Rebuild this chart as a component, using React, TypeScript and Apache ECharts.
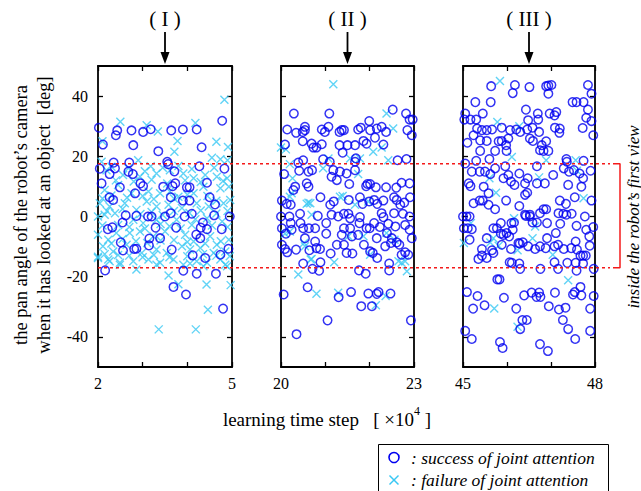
import React, { useEffect, useRef } from "react";
import * as echarts from "echarts";

const FONT = '"Liberation Serif", "Times New Roman", serif';

const panelTitles = ["( I )", "( II )", "( III )"];
const xRanges: [number, number][] = [[2, 5], [20, 23], [45, 48]];
const yTicks = [-40, -20, 0, 20, 40];
const viewLimits = [17.5, -17];

const p1Success: [number, number][] = [
  [2.02,29.5],[2.11,23.9],[2.40,27.0],[2.43,28.6],[2.75,28.6],[2.79,23.7],[3.01,28.1],[3.18,29.0],[3.35,21.7],[3.64,28.6],[3.90,28.9],[4.21,28.9],[4.32,23.0],[4.78,31.8],
  [2.04,15.9],[2.35,17.9],[2.26,14.1],[2.38,16.0],[2.70,17.9],[2.68,14.9],[2.78,14.1],[3.55,18.2],[3.57,17.4],[3.71,15.0],[4.27,16.7],[4.83,15.9],
  [2.08,11.0],[2.49,9.7],[2.95,11.0],[3.01,10.1],[2.83,7.7],[3.46,9.9],[3.67,10.1],[3.73,11.0],[3.99,9.7],[4.05,9.7],[4.44,11.2],[3.63,6.4],[2.26,6.4],[2.34,5.5],[3.90,5.3],[4.05,5.3],[4.50,6.4],[4.62,4.0],
  [2.62,0.4],[2.86,0.2],[3.12,0],[3.20,0],[3.50,0],[3.63,1.1],[3.94,0],[4.10,0.9],[4.60,0.4],[4.95,0],
  [2.55,-2.0],[2.22,-4.2],[2.32,-3.6],[3.29,-3.7],[3.75,-3.7],[4.35,-2.0],[4.30,-3.7],[4.44,-4.2],[4.77,-4.2],[4.20,-6.0],[4.29,-7.2],[3.39,-7.2],[3.15,-7.3],[2.51,-8.6],[3.14,-9.6],[2.56,-11.3],[2.81,-10.8],[2.86,-10.7],[3.65,-11.0],[4.12,-12.9],[4.40,-13.8],[4.74,-12.7],[4.92,-10.7],
  [2.16,-17.9],[3.91,-18.0],[4.21,-19.0],[4.64,-19.0],[3.69,-23.4],[3.97,-25.9],[4.80,-30.6]
];

const p1Failure: [number, number][] = [
  [4.83,38.8],[2.50,31.5],[3.09,30.3],[3.34,28.2],[4.18,31.1],[2.10,25.0],[3.78,25.1],[4.65,24.8],[4.91,23.1],[3.71,21.5],[4.55,19.5],[4.74,19.0],[4.90,18.7],[2.08,18.2],[2.90,18.7],[3.18,16.7],
  [2.19,15.4],[2.56,13.8],[2.94,13.2],[3.31,14.3],[3.61,15.4],[3.91,14.3],[4.14,12.7],[4.40,13.8],[4.66,13.2],[4.89,12.7],
  [2.30,16.5],[2.68,16.0],[3.05,15.0],[3.45,16.2],[3.80,16.8],[4.10,15.8],[4.60,16.2],[2.40,12.0],[2.80,11.6],[3.20,12.2],[3.55,11.0],[3.95,12.0],[4.30,11.5],[4.80,11.8],
  [2.15,8.8],[2.45,10.5],[2.75,7.7],[3.13,8.3],[3.39,7.7],[3.61,8.3],[3.80,6.6],[4.14,7.7],[4.36,9.9],[4.74,9.4],[4.93,9.9],
  [2.30,7.0],[2.65,6.2],[3.00,6.8],[3.25,5.8],[3.70,6.0],[4.00,7.2],[4.45,6.8],[4.65,5.2],[2.10,6.0],
  [2.04,4.4],[2.26,3.3],[2.60,4.4],[2.86,2.2],[3.09,5.0],[3.31,3.3],[3.58,3.9],[3.88,2.8],[4.21,4.4],[4.48,3.3],[4.81,4.4],[4.96,5.5],
  [2.20,1.8],[2.55,2.5],[2.95,0.8],[3.20,1.5],[3.45,0.5],[3.70,1.8],[4.05,1.2],[4.30,2.0],[4.65,1.0],[4.90,1.8],
  [2.00,0],[2.15,0.6],[2.38,1.1],[2.79,-1.1],[3.01,-2.2],[3.31,-1.1],[3.76,-1.1],[4.18,-0.9],[4.44,-0.6],[4.78,-1.7],
  [2.10,-3.0],[2.45,-2.8],[2.70,-3.5],[3.05,-4.0],[3.40,-2.5],[3.60,-3.2],[3.85,-4.0],[4.10,-2.8],[4.55,-3.0],[4.90,-3.5],
  [2.00,-6.1],[2.23,-7.7],[2.41,-5.5],[2.71,-5.5],[2.94,-5.0],[3.24,-6.6],[3.50,-5.0],[3.95,-6.1],[4.14,-8.3],[4.51,-6.6],[4.66,-9.4],[4.93,-7.7],
  [2.30,-9.0],[2.55,-7.5],[2.85,-8.2],[3.10,-8.8],[3.40,-8.0],[3.70,-7.8],[4.00,-8.5],[4.40,-9.0],[4.75,-8.2],
  [2.11,-9.9],[2.34,-11.6],[2.64,-9.4],[2.98,-12.1],[3.31,-11.0],[3.54,-12.1],[3.88,-9.9],[4.06,-11.0],[4.29,-10.5],[4.59,-12.1],[4.85,-11.6],
  [2.15,-12.5],[2.45,-12.8],[2.70,-13.0],[3.00,-13.5],[3.25,-12.8],[3.60,-13.5],[4.00,-13.2],[4.35,-12.5],[4.65,-13.0],[4.95,-13.2],
  [2.00,-13.8],[2.23,-14.3],[2.49,-15.4],[2.79,-14.9],[3.13,-14.3],[3.39,-15.4],[3.69,-14.3],[3.91,-16.0],[4.21,-14.9],[4.44,-15.4],[4.74,-14.3],[4.89,-16.5],
  [2.00,-13.4],[2.26,-14.9],[2.49,-16.0],[2.86,-17.6],[3.31,-16.0],[4.06,-15.6],[4.36,-16.5],[4.85,-16.0],
  [3.58,-19.6],[3.80,-22.5],[4.43,-22.6],[4.46,-31.0],[4.97,-22.8],[3.36,-37.5],[4.19,-37.5]
];

const p2Success: [number, number][] = [
  [20.29,34.2],[21.09,34.2],[22.52,35.5],[22.82,34.2],[22.90,32.2],[22.97,32.2],
  [20.14,28.9],[20.34,27.8],[20.49,28.1],[20.54,28.7],[20.54,29.8],[20.92,28.9],[20.99,28.1],[21.07,29.8],[21.32,28.1],[21.37,28.7],[21.42,28.7],[21.74,28.9],[21.80,29.5],[21.99,31.7],[22.01,28.7],[22.16,29.2],[22.27,29.8],[22.37,28.1],[22.85,28.7],[22.95,27.0],
  [20.09,23.9],[20.49,25.0],[20.69,24.2],[20.73,22.9],[20.80,22.9],[20.92,24.0],[21.32,23.7],[21.39,21.2],[21.50,23.7],[21.67,23.7],[21.86,25.1],[21.93,24.2],[22.12,26.2],[22.31,23.9],[22.63,18.7],[22.83,19.1],
  [20.07,14.1],[20.39,17.9],[20.50,18.7],[20.41,15.2],[20.62,14.9],[20.70,15.4],[20.95,19.0],[21.10,18.2],[21.18,15.4],[21.14,13.2],[21.26,12.1],[21.33,14.9],[21.48,14.3],[21.67,18.2],[21.69,19.3],[21.67,15.4],
  [20.32,9.9],[20.28,8.8],[20.58,11.0],[20.62,9.9],[21.54,10.8],[21.92,10.1],[21.95,10.8],[22.01,10.8],[22.14,9.7],[22.37,9.7],[22.60,9.6],[22.72,11.2],[22.90,11.0],
  [20.02,5.3],[20.13,4.2],[20.22,3.9],[20.89,6.4],[21.11,3.9],[21.19,5.0],[21.53,5.5],[21.78,6.4],[21.84,4.2],[21.99,5.0],[22.10,5.5],[22.17,4.2],[22.31,5.3],[22.55,6.4],[22.61,5.5],[22.69,3.9],[22.78,4.6],[22.91,6.4],
  [20.00,0],[20.19,0],[20.43,0.9],[20.83,0.2],[21.14,0.6],[21.29,0],[21.42,0.9],[21.52,0.9],[21.56,-0.6],[21.78,-0.2],[22.27,1.1],[22.31,-0.2],[22.55,1.1],[22.75,0.9],[22.90,0],
  [20.02,-3.9],[20.22,-2.2],[20.24,-4.4],[20.44,-2.2],[20.50,-3.9],[20.63,-3.9],[20.77,-3.9],[21.02,-2.2],[21.42,-3.9],[21.56,-3.9],[21.77,-2.2],[21.93,-3.9],[22.00,-3.9],[22.10,-2.2],[22.23,-3.5],[22.42,-2.4],[22.58,-3.3],[22.80,-2.8],[22.90,-4.4],
  [20.11,-5.7],[20.54,-7.2],[21.02,-5.7],[21.37,-6.1],[21.60,-6.6],[21.74,-6.1],[22.16,-7.2],[22.39,-5.5],[22.50,-7.2],[22.95,-7.2],
  [20.02,-9.4],[20.09,-10.8],[20.14,-11.9],[20.34,-11.0],[20.64,-11.2],[20.77,-8.3],[20.80,-10.5],[20.88,-10.8],[21.12,-12.3],[21.26,-9.4],[21.42,-9.4],[21.48,-12.1],[21.61,-12.3],[21.87,-9.4],[22.01,-11.6],[22.07,-12.1],[22.17,-13.8],[22.35,-9.9],[22.48,-8.8],[22.61,-8.6],[22.67,-9.4],[22.72,-12.7],[22.80,-11.9],[22.87,-12.7],
  [20.50,-15.6],[20.89,-15.2],[22.44,-15.6],[20.71,-17.4],[20.86,-18.0],[21.76,-17.9],[21.91,-19.0],[22.44,-17.9],
  [20.06,-25.9],[20.60,-23.5],[21.30,-26.8],[21.58,-25.1],[21.81,-29.8],[21.97,-25.6],[22.05,-29.8],[22.16,-25.7],[22.20,-25.1],[22.47,-25.6],[21.05,-34.5],[22.93,-34.5],[20.35,-39.1]
];

const p2Failure: [number, number][] = [
  [21.18,43.9],[22.38,34.2],[22.53,29.2],[20.00,22.9],[20.11,22.3],[22.08,21.5],[22.27,22.9],[22.42,18.7],[21.78,19.3],[21.56,19.3],[21.07,19.3],[20.20,17.4],[20.95,16.0],[21.74,14.1],[20.26,12.7],
  [20.20,6.6],[20.24,7.7],[20.62,4.6],[20.66,4.4],[20.58,4.2],[21.33,6.6],[21.39,6.8],[21.67,3.9],[21.97,5.0],[20.69,0.6],[20.20,-5.0],[20.54,-9.9],[21.52,-6.6],[21.86,-6.6],[22.38,-5.5],
  [20.69,-14.1],[21.20,-15.2],[22.65,-14.9],[22.80,-14.9],[22.56,-7.7],[20.39,-19.3],[20.67,-14.3],[20.80,-25.7],[21.29,-25.3],[22.14,-29.5],[22.36,-26.4],[22.84,-18.2],[22.72,-15.4],[20.09,-5.7],[22.01,-12.7],[20.52,-8.8]
];

const p3Success: [number, number][] = [
  [45.64,43.3],[46.18,43.7],[46.13,41.0],[46.51,43.0],[46.89,43.3],[46.94,43.5],[47.01,43.7],[46.94,40.8],[47.84,43.7],[47.92,40.8],
  [45.28,38.0],[45.63,38.0],[47.49,38.0],[47.58,38.0],[47.74,38.0],[47.84,35.5],[46.43,35.5],
  [45.05,34.2],[45.03,32.2],[45.17,32.2],[45.30,32.2],[45.45,34.2],[46.70,34.2],[46.71,32.2],[46.48,32.0],[46.97,34.2],[47.12,34.7],[47.08,33.6],[47.80,32.8],[47.92,31.7],[47.72,29.4],[47.96,27.0],
  [45.32,29.2],[45.43,28.7],[45.54,28.7],[45.66,28.9],[45.88,29.5],[46.07,28.7],[46.21,28.9],[46.30,28.1],[46.46,28.9],[46.58,29.5],[46.73,28.1],[47.09,29.5],[47.20,29.2],[47.19,27.8],
  [45.24,27.0],[45.10,24.5],[45.39,25.3],[45.54,25.1],[45.81,25.0],[45.88,25.1],[46.03,25.9],[45.98,23.7],[46.52,25.9],[46.59,25.1],[46.89,25.0],[46.79,23.7],[46.75,22.0],[46.83,21.8],[46.94,21.8],
  [45.39,21.8],[45.73,21.8],[45.99,21.8],[45.30,18.5],[45.60,19.1],[47.35,19.1],[47.36,18.2],[47.74,18.5],[45.05,17.6],
  [45.20,14.9],[45.38,14.9],[45.50,14.9],[45.62,14.1],[45.73,16.0],[45.96,16.7],[46.03,13.8],[45.92,12.7],[46.09,11.6],[46.17,10.5],[46.28,14.3],[46.47,12.7],[46.68,16.7],[46.41,11.0],[46.68,11.0],[46.86,11.0],[47.05,13.8],[47.29,16.0],[47.41,14.9],[47.39,10.5],[47.52,15.4],[47.65,14.3],[47.73,12.7],[47.90,15.2],[47.69,9.9],
  [45.13,11.0],[45.17,10.1],[45.47,9.9],[45.58,7.7],[45.24,4.4],[45.38,5.3],[45.45,5.3],[45.58,3.9],[45.73,2.4],[45.98,5.3],[46.28,3.5],[46.41,7.2],[46.46,7.9],[46.41,0.6],[46.52,0.6],[46.75,1.1],[46.83,2.4],[46.89,2.4],[47.20,5.3],[47.34,4.2],[47.54,6.4],[47.92,5.3],
  [45.00,0],[45.08,0],[45.15,0],[45.02,-3.9],[45.11,-3.9],[45.20,-4.2],[45.15,-7.7],[45.54,-7.2],[45.69,-3.9],[45.77,-3.9],[45.86,-2.2],[45.86,-5.7],[45.92,-6.1],[45.99,-5.5],[46.10,-2.2],[46.13,-4.4],[46.16,-2.0],[46.05,-6.6],[46.26,-8.8],[46.36,-8.6],
  [46.43,0.2],[46.52,0],[46.58,-2.0],[46.68,-2.0],[46.91,-2.2],[46.91,-7.2],[47.11,-5.5],[47.17,1.1],[47.21,-2.4],[47.28,0.9],[47.35,0.6],[47.47,0.9],[47.56,-8.3],[47.58,-3.1],[47.77,0],[47.80,-4.4],[47.96,-3.5],[47.87,-6.6],
  [47.16,-9.4],[47.29,-10.8],[47.46,-10.5],[47.59,-11.0],[47.67,-13.0],[47.73,-13.0],[47.79,-13.0],[47.88,-9.7],
  [45.43,-10.8],[45.66,-11.2],[45.69,-12.1],[45.43,-13.0],[45.88,-9.4],[46.09,-10.8],[46.29,-9.0],[46.48,-9.9],[46.64,-10.8],[46.75,-9.9],[46.88,-10.5],[47.08,-9.9],
  [46.06,-15.2],[46.11,-15.4],[46.28,-15.6],[47.08,-15.2],[47.37,-15.4],[47.56,-15.4],[47.73,-15.6],[45.35,-14.1],[45.54,-13.8],
  [46.30,-17.4],[46.76,-17.4],[47.16,-17.4],[47.58,-18.0],[47.97,-17.4],[45.78,-20.9],[45.83,-20.9],
  [45.09,-25.1],[45.33,-26.4],[45.23,-30.6],[45.49,-29.5],[45.93,-27.0],[46.21,-30.6],[46.39,-26.2],[46.56,-25.3],[46.73,-25.3],[46.67,-26.7],[46.76,-26.7],[46.95,-29.8],[47.09,-25.3],[47.18,-30.9],[47.33,-30.3],[47.27,-34.4],[47.50,-25.9],[47.54,-25.1],[47.67,-23.4],[47.69,-26.2],[47.89,-30.6],[47.97,-26.4],[46.35,-34.4],[46.45,-34.4],
  [45.05,-38.0],[45.20,-40.7],[45.84,-41.7],[45.90,-43.7],[46.30,-37.4],[46.75,-42.4],[46.93,-44.7],[47.39,-37.4],[47.55,-40.7],[47.89,-38.0]
];

const p3Failure: [number, number][] = [
  [45.84,45.0],[45.78,31.4],[46.28,30.0],[46.11,19.8],[46.89,18.7],[47.56,18.7],[47.59,15.2],[46.73,13.0],[45.60,12.7],[45.75,7.9],[47.74,6.1],[46.16,-0.6],[45.18,-2.2],[46.64,-3.3],
  [45.02,-8.8],[45.69,-7.2],[46.58,-7.2],[45.62,-8.6],[45.81,-9.7],[46.24,-11.2],[47.04,-12.7],[47.39,-21.2],[45.71,-30.6],[46.24,-36.6]
];

const successSets = [p1Success, p2Success, p3Success];
const failureSets = [p1Failure, p2Failure, p3Failure];

const gridLefts = [98, 281, 463];
const gridWidths = [134, 133, 132];
const GRID_TOP = 66;
const GRID_H = 301;

const BLUE = "#0000f0";
const CYAN = "#38c8f4";
const RED = "#f41a1a";

export default function App() {
  const ref = useRef<HTMLDivElement>(null);

  useEffect(() => {
    if (!ref.current) return;
    const chart = echarts.init(ref.current, undefined, { renderer: "svg" });

    const grids: any[] = gridLefts.map((l, i) => ({
      left: l, top: GRID_TOP, width: gridWidths[i], height: GRID_H, containLabel: false,
    }));
    grids.push({ left: 98, top: GRID_TOP, width: 522, height: GRID_H, containLabel: false });

    const axisLine = { show: true, onZero: false, lineStyle: { color: "#000", width: 1.8 } };
    const tickStyle = { color: "#000", width: 1.3 };
    const xAxes: any[] = [];
    const yAxes: any[] = [];
    xRanges.forEach(([mn, mx], i) => {
      xAxes.push({
        type: "value", gridIndex: i, min: mn, max: mx, interval: 1, position: "bottom",
        axisLine, splitLine: { show: false },
        axisTick: { show: true, inside: true, length: 5, lineStyle: tickStyle },
        axisLabel: { show: true, customValues: [mn, mx], color: "#000", fontFamily: FONT, fontSize: 16, margin: 8 },
      });
      xAxes.push({
        type: "value", gridIndex: i, min: mn, max: mx, interval: 1, position: "top",
        axisLine, splitLine: { show: false },
        axisTick: { show: true, inside: true, length: 5, lineStyle: tickStyle },
        axisLabel: { show: false },
      });
      yAxes.push({
        type: "value", gridIndex: i, min: -50, max: 50, position: "left",
        axisLine, splitLine: { show: false },
        axisTick: { show: true, inside: true, length: 5, customValues: yTicks, lineStyle: tickStyle },
        axisLabel: { show: i === 0, customValues: yTicks, color: "#000", fontFamily: FONT, fontSize: 16, margin: 10 },
      });
      yAxes.push({
        type: "value", gridIndex: i, min: -50, max: 50, position: "right",
        axisLine, splitLine: { show: false },
        axisTick: { show: true, inside: true, length: 5, customValues: yTicks, lineStyle: tickStyle },
        axisLabel: { show: false },
      });
    });
    xAxes.push({ type: "value", gridIndex: 3, min: 0, max: 1, show: false });
    yAxes.push({ type: "value", gridIndex: 3, min: -50, max: 50, show: false });

    const series: any[] = [];
    for (let i = 0; i < 3; i++) {
      series.push({
        type: "scatter", name: "failure", xAxisIndex: 2 * i, yAxisIndex: 2 * i,
        data: failureSets[i], symbol: "path://M0,0L10,10M10,0L0,10", symbolSize: 8,
        itemStyle: { color: "transparent", borderColor: CYAN, borderWidth: 1.4 }, z: 2,
      });
      series.push({
        type: "scatter", name: "success", xAxisIndex: 2 * i, yAxisIndex: 2 * i,
        data: successSets[i], symbol: "circle", symbolSize: 8.5,
        itemStyle: { color: "transparent", borderColor: BLUE, borderWidth: 1.5 }, z: 3,
      });
    }
    const lineEnd = (610 - 98) / 522;
    const bracketStart = (613 - 98) / 522;
    viewLimits.forEach((v) => {
      series.push({
        type: "line", xAxisIndex: 6, yAxisIndex: 6, symbol: "none", z: 4,
        data: [[0, v], [lineEnd, v]],
        lineStyle: { color: RED, width: 1.5, type: [3, 3] },
      });
    });
    series.push({
      type: "line", xAxisIndex: 6, yAxisIndex: 6, symbol: "none", z: 4,
      data: [[bracketStart, viewLimits[0]], [1, viewLimits[0]], [1, viewLimits[1]], [bracketStart, viewLimits[1]]],
      lineStyle: { color: RED, width: 1.5 },
    });

    const graphic: any[] = [];
    gridLefts.forEach((l, i) => {
      const cx = l + gridWidths[i] / 2;
      graphic.push({
        type: "text", x: cx, y: 19,
        style: { text: panelTitles[i], font: `21px ${FONT}`, fill: "#000", textAlign: "center", textVerticalAlign: "middle" },
      });
      graphic.push({ type: "line", shape: { x1: cx, y1: 32, x2: cx, y2: 56 }, style: { stroke: "#000", lineWidth: 1.8 } });
      graphic.push({ type: "polygon", shape: { points: [[cx - 4.5, 52], [cx + 4.5, 52], [cx, 64]] }, style: { fill: "#000" } });
    });
    graphic.push({
      type: "text", x: 21, y: 215, rotation: Math.PI / 2,
      style: { text: "the pan angle of the robot’s camera", font: `18.5px ${FONT}`, fill: "#000", textAlign: "center", textVerticalAlign: "middle" },
    });
    graphic.push({
      type: "text", x: 44, y: 215, rotation: Math.PI / 2,
      style: { text: "when it has looked at an object  [deg]", font: `18.5px ${FONT}`, fill: "#000", textAlign: "center", textVerticalAlign: "middle" },
    });
    graphic.push({
      type: "text", x: 327, y: 417,
      style: {
        text: "{a|learning time step   [ ×10}{s|4}{a| ]}", textAlign: "center", textVerticalAlign: "middle", fill: "#000",
        rich: {
          a: { fontFamily: FONT, fontSize: 19, lineHeight: 24, verticalAlign: "bottom" },
          s: { fontFamily: FONT, fontSize: 12, lineHeight: 24, verticalAlign: "top" },
        },
      },
    });
    graphic.push({
      type: "text", x: 633, y: 217, rotation: Math.PI / 2,
      style: { text: "inside the robot’s first view", font: `italic 17px ${FONT}`, fill: "#000", textAlign: "center", textVerticalAlign: "middle" },
    });
    // legend box
    graphic.push({ type: "rect", shape: { x: 378.5, y: 444.5, width: 230, height: 60 }, style: { fill: "#fff", stroke: "#000", lineWidth: 1 } });
    graphic.push({ type: "circle", shape: { cx: 394, cy: 457.5, r: 5 }, style: { fill: "none", stroke: BLUE, lineWidth: 1.6 } });
    graphic.push({ type: "line", shape: { x1: 389.5, y1: 475.5, x2: 398.5, y2: 484.5 }, style: { stroke: CYAN, lineWidth: 1.5 } });
    graphic.push({ type: "line", shape: { x1: 398.5, y1: 475.5, x2: 389.5, y2: 484.5 }, style: { stroke: CYAN, lineWidth: 1.5 } });
    graphic.push({
      type: "text", x: 411, y: 457.5,
      style: { text: ": success of joint attention", font: `italic 17.5px ${FONT}`, fill: "#000", textAlign: "left", textVerticalAlign: "middle" },
    });
    graphic.push({
      type: "text", x: 411, y: 480,
      style: { text: ": failure of joint attention", font: `italic 17.5px ${FONT}`, fill: "#000", textAlign: "left", textVerticalAlign: "middle" },
    });

    chart.setOption({
      animation: false,
      backgroundColor: "#fff",
      grid: grids,
      xAxis: xAxes,
      yAxis: yAxes,
      series,
      graphic,
    });
    return () => chart.dispose();
  }, []);

  return <div ref={ref} style={{ position: "fixed", left: 0, top: 0, width: 641, height: 491 }} />;
}
